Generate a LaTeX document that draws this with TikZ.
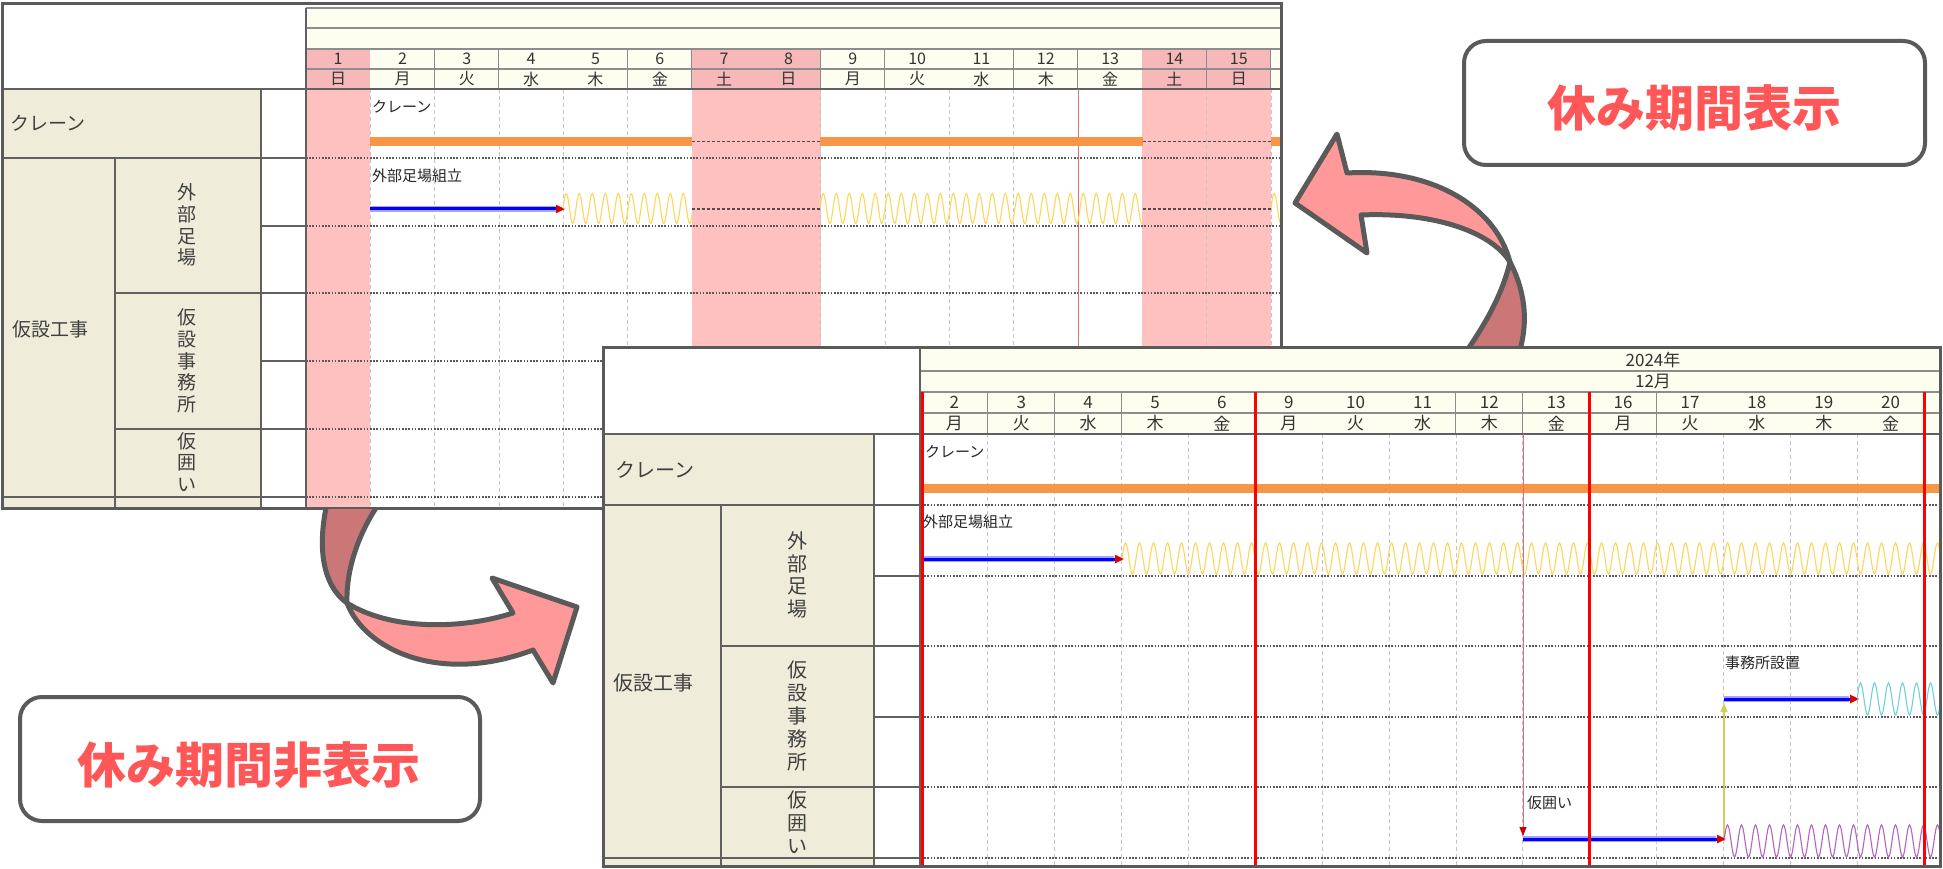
\documentclass[tikz,border=0pt]{standalone}
\usepackage{fontspec}
\newfontfamily\jp{Noto Sans CJK JP}
\usetikzlibrary{arrows.meta}
\definecolor{cream}{HTML}{EFEDDA}
\definecolor{ivory}{HTML}{FEFEF0}
\definecolor{pinkc}{HTML}{FFC0C0}
\definecolor{pinkh}{HTML}{F6B8B8}
\definecolor{frameg}{HTML}{5A5A5A}
\definecolor{tabg}{HTML}{606060}
\definecolor{cellg}{HTML}{8C8C8C}
\definecolor{gridg}{HTML}{C4C4C4}
\definecolor{orangebar}{HTML}{F79646}
\definecolor{wavey}{HTML}{FFD55A}
\definecolor{wavec}{HTML}{6FD0D8}
\definecolor{wavep}{HTML}{B463C4}
\definecolor{arrowf}{HTML}{FF9999}
\definecolor{arrowb}{HTML}{CC7777}
\definecolor{calltext}{HTML}{FF5757}
\definecolor{linkred}{HTML}{E07070}
\definecolor{linky}{HTML}{D2CE5E}
\newcommand\wavy[6]{%
  \begin{scope}
  \clip (#1,#3-#4-3) rectangle (#2,#3+#4+3);
  \pgfmathtruncatemacro\np{(#2-#1)/#5+1}
  \pgfmathsetmacro\qq{#5/4}
  \draw[#6,line width=1.1pt] (#1,#3) \foreach \k in {1,...,\np}{ sin ++(\qq,-#4) cos ++(\qq,#4) sin ++(\qq,#4) cos ++(\qq,-#4) };
  \end{scope}}
\tikzset{
  dayt/.style={font=\jp\fontsize{16}{16}\selectfont, inner sep=0pt, text=black!80},
  dayb/.style={font=\jp\fontsize{17}{17}\selectfont, inner sep=0pt, text=black!80},
  labt/.style={font=\jp\fontsize{19}{22}\selectfont, inner sep=0pt, text=black!75, anchor=west},
  vlab/.style={font=\jp\fontsize{19}{21.7}\selectfont, inner sep=0pt, text=black!75, align=center},
  vlabb/.style={font=\jp\fontsize{20}{22.8}\selectfont, inner sep=0pt, text=black!75, align=center},
  bart/.style={font=\jp\fontsize{15}{15}\selectfont, inner sep=0pt, text=black!85, anchor=west},
  tabline/.style={draw=tabg, line width=1.5pt},
  cellline/.style={draw=cellg, line width=1.2pt},
  gridv/.style={draw=gridg, line width=0.9pt, dash pattern=on 4pt off 3pt},
  gridh/.style={draw=black!65, line width=1.3pt, dash pattern=on 1.6pt off 1.6pt},
  brk/.style={draw=black!70, line width=1.3pt, dash pattern=on 3pt off 2pt},
  frm/.style={draw=frameg, line width=3pt},
  crane/.style={draw=orangebar, line width=9pt},
  halo/.style={draw=blue!35, line width=6pt},
  bluebar/.style={draw=blue, line width=3pt, -{Triangle[length=9pt,width=8pt,color=red!85!black,fill=red!85!black]}},
  bigarrow/.style={draw=frameg, line width=5pt, line join=round},
  callout/.style={draw=frameg, line width=4pt, rounded corners=22pt, fill=white},
  calltxt/.style={font=\jp\bfseries\fontsize{49}{49}\selectfont, text=calltext, inner sep=0pt}
}
\begin{document}
\begin{tikzpicture}[x=1pt,y=-1pt]
\useasboundingbox (0,0) rectangle (1943,869);
\fill[white] (0,0) rectangle (1943,869);
%================ screenshot A =================
\fill[white] (2,4) rectangle (1281,508);
\fill[ivory] (306,8) rectangle (1281,49);
\fill[cream] (2,89) rectangle (261,508);
\foreach \d/\w/\p [count=\i] in {1/日/1,2/月/0,3/火/0,4/水/0,5/木/0,6/金/0,7/土/1,8/日/1,9/月/0,10/火/0,11/水/0,12/木/0,13/金/0,14/土/1,15/日/1}{
  \pgfmathsetmacro\xl{306+(\i-1)*64.33}
  \pgfmathsetmacro\xr{\xl+64.33}
  \pgfmathsetmacro\xc{\xl+32.17}
  \ifnum\p=1
    \fill[pinkh] (\xl,49) rectangle (\xr,89);
    \fill[pinkc] (\xl,89) rectangle (\xr,508);
  \else
    \fill[ivory] (\xl,49) rectangle (\xr,89);
  \fi
  \node[dayt] (ad\i) at (\xc,59) {\d};
  \node[dayt] (aw\i) at (\xc,79) {\w};
  \draw[cellline] (\xr,49) -- (\xr,89);
  \draw[gridv] (\xr,89) -- (\xr,508);
}
\fill[ivory] (1271,49) rectangle (1281,89);
\begin{scope}
  \clip (2,4) rectangle (1281,508);
  \node[dayt] (ayear) at (1284,19) {2};
\end{scope}
\draw[cellline] (306,28) -- (1281,28);
\draw[cellline] (306,49) -- (1281,49);
\draw[cellline] (306,69) -- (1281,69);
\draw[cellline] (306,8) -- (1281,8);
% row lines in chart
\foreach \y in {158,226,293,361,429,497}{
  \draw[gridh] (306,\y) -- (1281,\y);
  \draw[tabline] (261,\y) -- (306,\y);
}
% left table
\draw[tabline] (2,89) -- (1281,89);
\draw[tabline] (2,158) -- (261,158);
\draw[tabline] (115,293) -- (261,293);
\draw[tabline] (115,429) -- (261,429);
\draw[tabline] (2,497) -- (261,497);
\draw[tabline] (115,158) -- (115,508);
\draw[tabline] (261,89) -- (261,508);
\draw[tabline] (306,8) -- (306,508);
\node[labt] (aCr) at (10,123) {クレーン};
\node[labt] (aKk) at (12,329) {仮設工事};
\node[vlab] (aGs) at (187,225) {外\\部\\足\\場};
\node[vlab] (aKj) at (187,361) {仮\\設\\事\\務\\所};
\node[vlab] (aKg) at (187,462) {仮\\囲\\い};
% red thin line
\draw[linkred, line width=1pt] (1078,89) -- (1078,508);
% crane
\node[bart] (aCrL) at (372,107) {クレーン};
\draw[crane] (370,141.5) -- (692,141.5);
\draw[crane] (820,141.5) -- (1142.5,141.5);
\draw[crane] (1271,141.5) -- (1281,141.5);
\draw[brk] (692,141.5) -- (820,141.5);
\draw[brk] (1142.5,141.5) -- (1271,141.5);
% scaffolding
\node[bart] (aGsL) at (372,176) {外部足場組立};
\draw[halo] (370,209) -- (556,209);
\draw[bluebar] (370,209) -- (565,209);
\wavy{563}{692}{208.5}{15}{13}{wavey}
\wavy{820}{1142.5}{208.5}{15}{13}{wavey}
\wavy{1271}{1280}{208.5}{15}{13}{wavey}
\draw[brk] (692,209) -- (820,209);
\draw[brk] (1142.5,209) -- (1271,209);
\draw[frm] (2,4) rectangle (1281,508);
%================ big arrows =================
\begin{scope}
  \clip (1283,0) rectangle (1943,345.5);
  \fill[arrowb] (1510,262) .. controls (1522,285) and (1531,318) .. (1518,356) -- (1463,356) .. controls (1485,325) and (1502,295) .. (1510,262) -- cycle;
  \draw[bigarrow] (1518,356) .. controls (1531,318) and (1522,285) .. (1510,262);
  \draw[bigarrow] (1463,356) .. controls (1485,325) and (1502,295) .. (1510,262);
  \filldraw[bigarrow, fill=arrowf] (1295,203) -- (1337,134) -- (1347,173) .. controls (1430,168) and (1495,205) .. (1510,262) .. controls (1490,230) and (1430,212) .. (1361,215) -- (1367,253) -- cycle;
\end{scope}
\begin{scope}
  \clip (0,509.5) rectangle (601,869);
  \fill[arrowb] (329,495) .. controls (316,545) and (322,585) .. (347,603) .. controls (346,575) and (355,535) .. (385,495) -- cycle;
  \draw[bigarrow] (329,495) .. controls (316,545) and (322,585) .. (347,603);
  \draw[bigarrow] (347,603) .. controls (346,575) and (355,535) .. (385,495);
  \filldraw[bigarrow, fill=arrowf] (347,603) .. controls (365,650) and (440,685) .. (533,650) -- (553,683) -- (577,607) -- (492,578) -- (513,613) .. controls (460,630) and (390,630) .. (347,603) -- cycle;
\end{scope}
%================ screenshot B =================
\fill[white] (603,347) rectangle (1940,866);
\fill[ivory] (921,347) rectangle (1940,392);
\fill[cream] (603,434) rectangle (874,866);
\foreach \d/\w [count=\i] in {2/月,3/火,4/水,5/木,6/金,9/月,10/火,11/水,12/木,13/金,16/月,17/火,18/水,19/木,20/金}{
  \pgfmathsetmacro\xl{921+(\i-1)*66.87}
  \pgfmathsetmacro\xr{\xl+66.87}
  \pgfmathsetmacro\xc{\xl+33.43}
  \fill[ivory] (\xl,392) rectangle (\xr,434);
  \node[dayb] (bd\i) at (\xc,402.5) {\d};
  \node[dayb] (bw\i) at (\xc,423.5) {\w};
  \draw[cellline] (\xr,392) -- (\xr,434);
  \draw[gridv] (\xr,434) -- (\xr,866);
}
\fill[ivory] (1924,392) rectangle (1940,434);
\draw[cellline] (921,371) -- (1940,371);
\draw[cellline] (921,392) -- (1940,392);
\draw[cellline] (921,413) -- (1940,413);
\node[dayb] (byear) at (1653,360) {2024年};
\node[dayb] (bmonth) at (1653,381.5) {12月};
\foreach \y in {505,576,646,717,787,858}{
  \draw[gridh] (921,\y) -- (1940,\y);
  \draw[tabline] (874,\y) -- (921,\y);
}
\draw[tabline] (603,434) -- (1940,434);
\draw[tabline] (603,505) -- (874,505);
\draw[tabline] (721,646) -- (874,646);
\draw[tabline] (721,787) -- (874,787);
\draw[tabline] (603,858) -- (874,858);
\draw[tabline] (721,505) -- (721,866);
\draw[tabline] (874,434) -- (874,866);
\draw[tabline] (920,347) -- (920,866);
\node[labt, font=\jp\fontsize{20}{22}\selectfont] (bCr) at (615,470) {クレーン};
\node[labt, font=\jp\fontsize{20}{22}\selectfont] (bKk) at (613,683) {仮設工事};
\node[vlabb] (bGs) at (797,575) {外\\部\\足\\場};
\node[vlabb] (bKj) at (797,716) {仮\\設\\事\\務\\所};
\node[vlabb] (bKg) at (797,822.5) {仮\\囲\\い};
% crane bar
\node[bart] (bCrL) at (925,452) {クレーン};
\draw[crane] (922,488.5) -- (1940,488.5);
% scaffolding
\node[bart] (bGsL) at (923,522) {外部足場組立};
\draw[halo] (922,559) -- (1114,559);
\draw[bluebar] (922,559) -- (1124,559);
\wavy{1122}{1939}{558.5}{15.5}{14}{wavey}
% links
\coordinate (lnkTop) at (1523,434);
\coordinate (kgStart) at (1523,839);
\coordinate (kgEnd) at (1724,839);
\coordinate (jsStart) at (1724,699);
\coordinate (jsEnd) at (1857,699);
\draw[linkred, line width=1pt, -{Triangle[length=9pt,width=7pt,color=red!80!black,fill=red!80!black]}] (lnkTop) -- (1523,836);
\draw[linky, line width=1.2pt, -{Triangle[length=9pt,width=7pt,color=linky,fill=linky]}] (kgEnd) -- (1724,703);
% office
\node[bart] (bJsL) at (1725,663) {事務所設置};
\draw[halo] (jsStart) -- (1849,699);
\draw[bluebar] (jsStart) -- (1859,699);
\wavy{1857}{1939}{699}{16}{14}{wavec}
% hoarding
\node[bart] (bKgL) at (1527,803) {仮囲い};
\draw[halo] (kgStart) -- (1716,839);
\draw[bluebar] (kgStart) -- (1726,839);
\wavy{1724}{1939}{841}{16}{14}{wavep}
% red week lines
\foreach \x in {922,1255,1589,1924}{
  \draw[red, line width=3pt] (\x,392) -- (\x,866);
}
\draw[frm] (603,347) rectangle (1940,866);
%================ callouts =================
\node[callout, minimum width=461pt, minimum height=124pt] (box1) at (1694.5,103) {};
\node[calltxt] (txt1) at (1694,108) {休み期間表示};
\node[callout, minimum width=460pt, minimum height=124pt] (box2) at (250,759) {};
\node[calltxt] (txt2) at (249,765) {休み期間非表示};
\end{tikzpicture}
\end{document}
